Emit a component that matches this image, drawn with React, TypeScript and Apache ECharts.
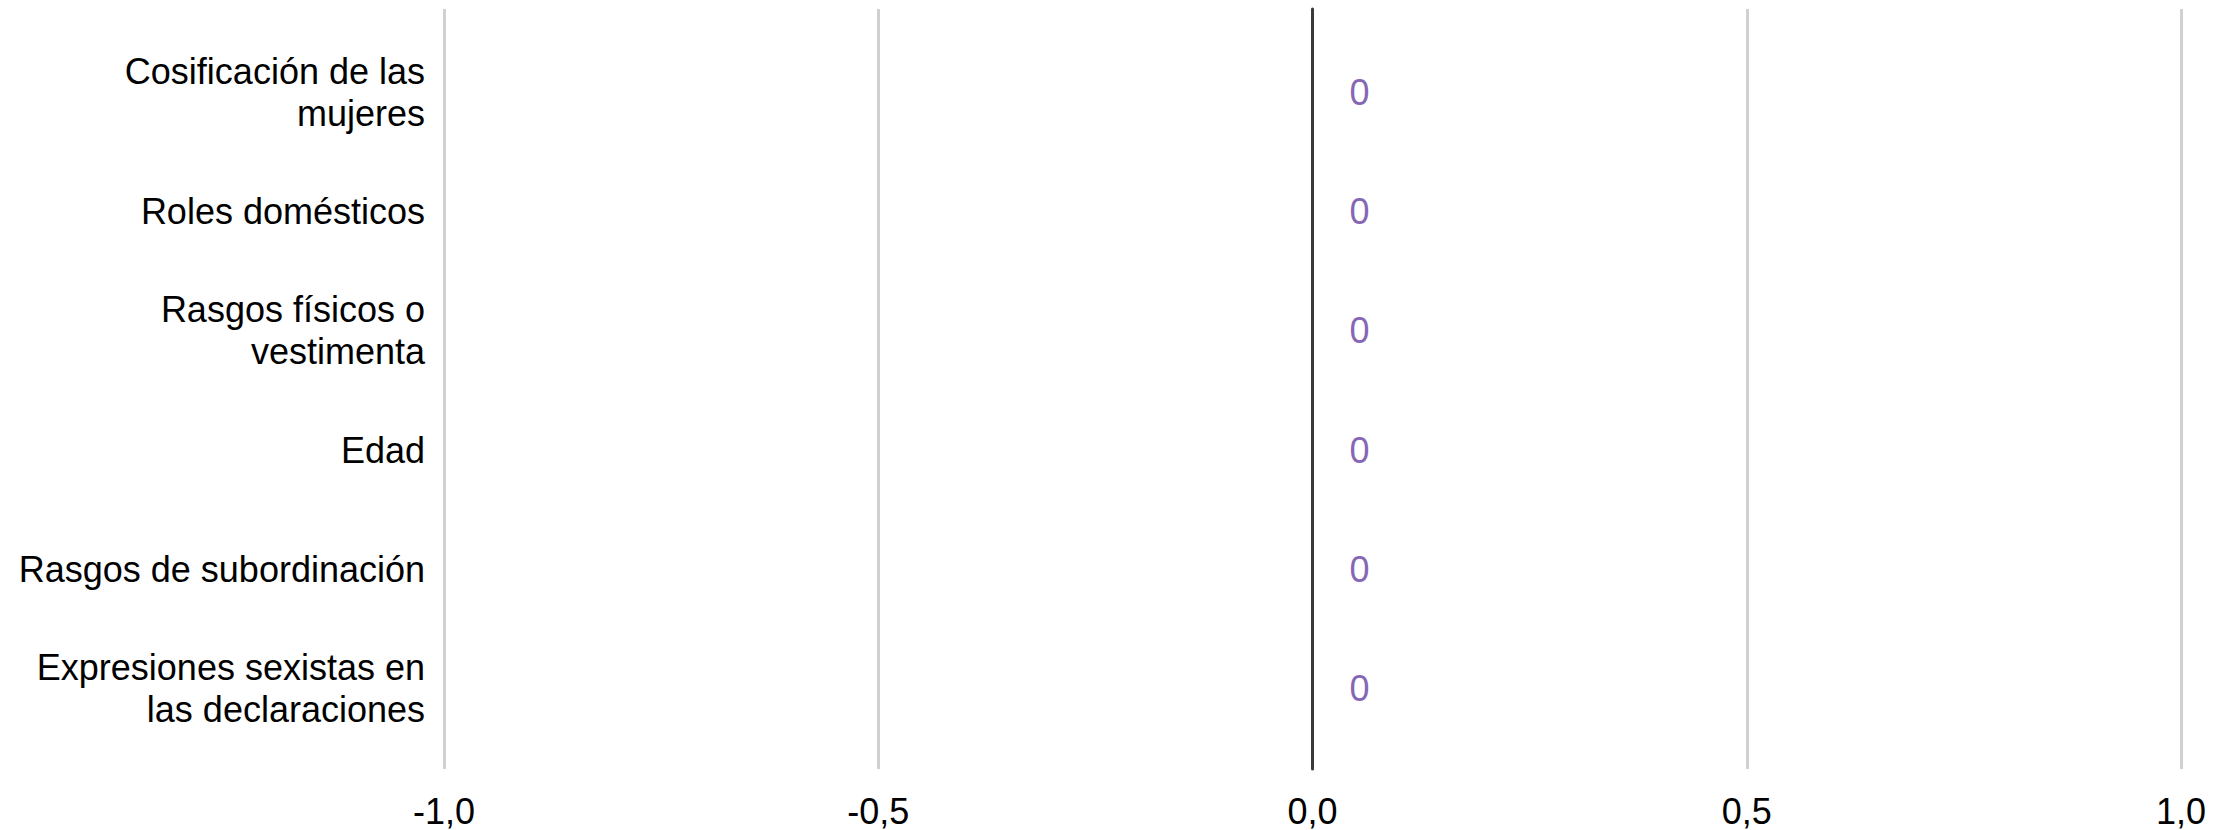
import React, { useEffect, useRef } from "react";
import * as echarts from "echarts";

const categories = [
  "Cosificación de las\nmujeres",
  "Roles domésticos",
  "Rasgos físicos o\nvestimenta",
  "Edad",
  "Rasgos de subordinación",
  "Expresiones sexistas en\nlas declaraciones",
];
const values = [0, 0, 0, 0, 0, 0];
const xMin = -1;
const xMax = 1;
const xInterval = 0.5;

const FONT = "'Liberation Sans', Arial, sans-serif";

export default function App() {
  const ref = useRef<HTMLDivElement>(null);
  useEffect(() => {
    document.body.style.margin = "0";
    if (!ref.current) return;
    const chart = echarts.init(ref.current, undefined, { renderer: "svg" });
    chart.setOption({
      animation: false,
      backgroundColor: "#ffffff",
      grid: [
        { left: 444, right: 50, top: 9, bottom: 61 },
        { left: 444, right: 50, top: 33, bottom: 82 },
      ],
      xAxis: [
        {
          type: "value",
          gridIndex: 0,
          min: xMin,
          max: xMax,
          interval: xInterval,
          axisLine: { show: false },
          axisTick: { show: false },
          splitLine: { show: true, lineStyle: { color: "#d0d0d0", width: 3 } },
          axisLabel: {
            fontSize: 36,
            color: "#000000",
            fontFamily: FONT,
            margin: 24,
            formatter: (v: number) => v.toFixed(1).replace(".", ","),
          },
        },
        {
          type: "value",
          gridIndex: 1,
          min: xMin,
          max: xMax,
          show: false,
        },
      ],
      yAxis: [
        {
          type: "value",
          gridIndex: 0,
          min: 0,
          max: 1,
          axisLine: { show: true, onZero: true, lineStyle: { color: "#3a3a3a", width: 3 } },
          axisTick: { show: false },
          axisLabel: { show: false },
          splitLine: { show: false },
        },
        {
          type: "category",
          gridIndex: 1,
          inverse: true,
          data: categories,
          axisLine: { show: false },
          axisTick: { show: false },
          splitLine: { show: false },
          axisLabel: {
            fontSize: 36,
            color: "#000000",
            fontFamily: FONT,
            margin: 19,
            lineHeight: 42,
            align: "right",
          },
        },
      ],
      series: [
        {
          type: "bar",
          xAxisIndex: 1,
          yAxisIndex: 1,
          data: values,
          itemStyle: { color: "#8667b5" },
          label: {
            show: true,
            position: "right",
            distance: 37,
            fontSize: 36,
            color: "#8667b5",
            fontFamily: FONT,
          },
        },
      ],
    });
    return () => chart.dispose();
  }, []);
  return <div ref={ref} style={{ width: 2231, height: 830 }} />;
}
